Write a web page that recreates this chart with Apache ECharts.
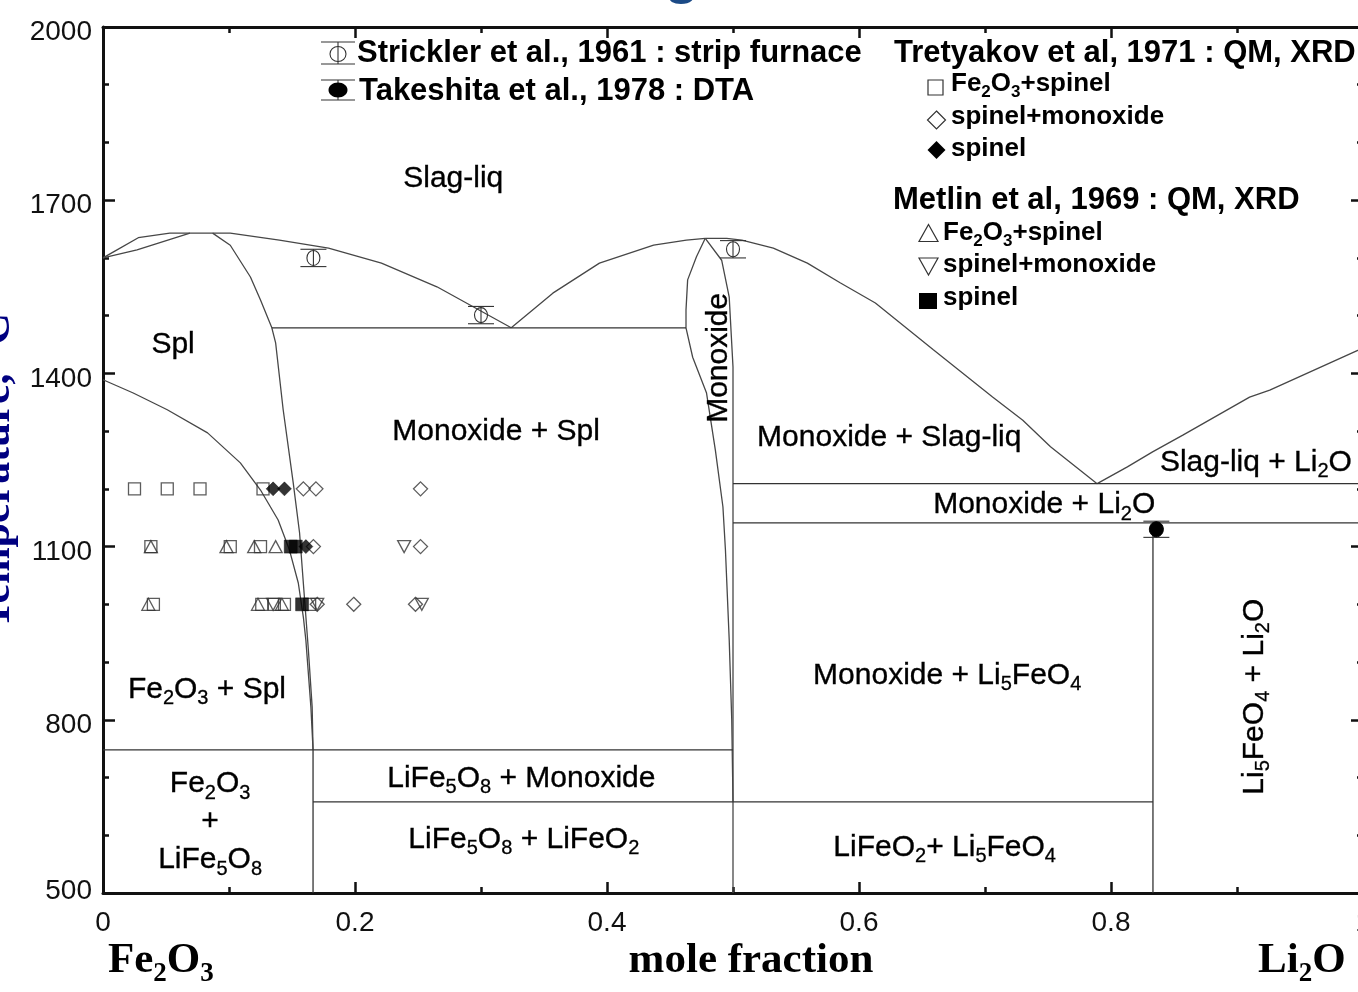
<!DOCTYPE html>
<html>
<head>
<meta charset="utf-8">
<title>Fe2O3 – Li2O phase diagram</title>
<script src="https://cdn.jsdelivr.net/npm/echarts@6/dist/echarts.min.js"></script>
<style>
  html, body { margin: 0; padding: 0; background: #fff; overflow: hidden; }
  #chart { width: 1358px; height: 992px; }
</style>
</head>
<body>
<div id="chart"></div>
<script>
// ---- Phase boundaries: [mole fraction Li2O, temperature °C] ----
const liquidusSpinel = [[0,1600],[0.008,1610],[0.028,1635],[0.053,1643],[0.101,1643],[0.140,1631],[0.179,1617],[0.221,1591],[0.265,1550],[0.324,1479]];
const solidusSpinelFe = [[0,1600],[0.027,1614],[0.069,1643]];
const spinelMonoxideLine = [[0.087,1643],[0.101,1622],[0.117,1567],[0.125,1527],[0.134,1479],[0.137,1453],[0.143,1337],[0.151,1210],[0.156,1124],[0.160,1008],[0.163,921],[0.166,822],[0.1667,748]];
const solvusFe2O3 = [[0,1389],[0.024,1366],[0.051,1337],[0.083,1297],[0.109,1245],[0.125,1198],[0.139,1146],[0.148,1094],[0.155,1037],[0.159,978],[0.161,938],[0.165,822],[0.1667,748]];
const liquidusMid = [[0.324,1479],[0.357,1539],[0.394,1591],[0.437,1622],[0.463,1631],[0.478,1634]];
const monoxideLeft = [[0.478,1634],[0.471,1602],[0.464,1562],[0.4627,1510],[0.4627,1479],[0.468,1428],[0.479,1366],[0.486,1267],[0.492,1169],[0.494,1094],[0.497,938],[0.499,800],[0.5,658]];
const monoxideRight = [[0.478,1634],[0.491,1596],[0.497,1532],[0.5,1411],[0.5,500]];
const liquidusMonoxide = [[0.478,1634],[0.495,1634],[0.507,1631],[0.532,1617],[0.559,1591],[0.585,1557],[0.613,1522],[0.659,1441],[0.706,1359],[0.730,1319],[0.752,1273],[0.789,1209]];
const liquidusLi2O = [[0.789,1209],[0.813,1238],[0.833,1264],[0.857,1293],[0.910,1359],[0.926,1371],[1.0,1444]];
const eutecticSpinel = [[0.134,1479],[0.4627,1479]];
const eutecticLi2O = [[0.5,1209],[1.0,1209]];
const peritecticLi5FeO4 = [[0.5,1141],[1.0,1141]];
const isothermFe2O3 = [[0,748],[0.5,748]];
const isothermLiFe5O8 = [[0.1667,658],[0.8333,658]];
const lineLiFe5O8 = [[0.1667,748],[0.1667,500]];
const lineLi5FeO4 = [[0.8333,1141],[0.8333,500]];

// ---- Experimental points ----
// Strickler et al., 1961 and Takeshita et al., 1978: [x, T, error]
const stricklerPts = [[0.167,1600,15],[0.300,1501,15],[0.500,1615,15]];
const takeshitaPts = [[0.836,1130,14]];
// Tretyakov et al., 1971
const tretFe2O3Spinel = [[0.025,1200],[0.051,1200],[0.077,1200],[0.127,1200],[0.038,1100],[0.101,1100],[0.125,1100],[0.040,1000],[0.126,1000],[0.136,1000],[0.144,1000],[0.164,1000]];
const tretSpinelMonoxide = [[0.159,1200],[0.169,1200],[0.252,1200],[0.167,1100],[0.252,1100],[0.170,1000],[0.199,1000],[0.248,1000]];
const tretSpinel = [[0.135,1200],[0.144,1200],[0.161,1100]];
// Metlin et al., 1969
const metFe2O3Spinel = [[0.038,1100],[0.098,1100],[0.120,1100],[0.137,1100],[0.036,1000],[0.123,1000],[0.142,1000]];
const metSpinelMonoxide = [[0.239,1100],[0.135,1000],[0.170,1000],[0.253,1000]];
const metSpinel = [[0.149,1100],[0.153,1100],[0.158,1000]];

// ---- Axis ticks ----
const xTicks = [0, 0.2, 0.4, 0.6, 0.8, 1];
const yTicks = [500, 800, 1100, 1400, 1700, 2000];

// ---- Styling helpers ----
const SANS = '"Liberation Sans", Arial, Helvetica, sans-serif';
const SERIF = '"Liberation Serif", "Times New Roman", serif';
const INK = '#000';
const LINE = '#474747';
const MARK = '#333';
const NAVY = '#000080';

const richStyles = {
  r:  { fontFamily: SANS, fontSize: 30, color: INK, lineHeight: 38, textBorderColor: INK, textBorderWidth: 0.35 },
  rs: { fontFamily: SANS, fontSize: 20, color: INK, lineHeight: 20, padding: [18, 0, 0, 0], textBorderColor: INK, textBorderWidth: 0.3 },
  h:  { fontFamily: SANS, fontSize: 31, fontWeight: 'bold', color: INK, lineHeight: 34 },
  e:  { fontFamily: SANS, fontSize: 26, fontWeight: 'bold', color: INK, lineHeight: 30 },
  es: { fontFamily: SANS, fontSize: 17, fontWeight: 'bold', color: INK, lineHeight: 14, padding: [16, 0, 0, 0] },
  b:  { fontFamily: SERIF, fontSize: 43, fontWeight: 'bold', color: NAVY, lineHeight: 50 },
  bs: { fontFamily: SERIF, fontSize: 27, fontWeight: 'bold', color: NAVY, lineHeight: 24, padding: [26, 0, 0, 0] }
};

// "Fe_2O_3" -> rich text with subscript digits
function rich(str, n, s) {
  return str.split('\n').map(line =>
    line.split(/_(\d)/).map((p, i) => p === '' ? '' : '{' + (i % 2 ? s : n) + '|' + p + '}').join('')
  ).join('\n');
}

function gText(x, y, str, n, s, align, rotation) {
  return {
    type: 'text', x: x, y: y, rotation: rotation || 0, silent: true, z: 20,
    style: {
      text: rich(str, n, s), rich: richStyles,
      align: align || 'left', verticalAlign: 'middle',
      textAlign: align || 'left', textVerticalAlign: 'middle'
    }
  };
}

function boundary(data, color) {
  return {
    type: 'line', data: data, showSymbol: false, symbol: 'none', silent: true,
    lineStyle: { color: color || LINE, width: 1.3 }, z: 2, animation: false
  };
}

const openStyle = { color: 'rgba(0,0,0,0)', borderColor: MARK, borderWidth: 1.3 };
const filledStyle = { color: '#000', borderColor: '#000', borderWidth: 0.5 };

function markers(data, symbol, size, style, rotate) {
  return {
    type: 'scatter', data: data, symbol: symbol, symbolSize: size, symbolRotate: rotate || 0,
    itemStyle: style, silent: true, z: 4, animation: false
  };
}

function errorBars(data, filled) {
  return {
    type: 'custom', data: data, silent: true, z: 5, animation: false,
    encode: { x: 0, y: 1 },
    renderItem: function (params, api) {
      const x = api.value(0), t = api.value(1), e = api.value(2);
      const c = api.coord([x, t]);
      const hi = api.coord([x, t + e]);
      const lo = api.coord([x, t - e]);
      const w = 13;
      const st = { stroke: '#333', lineWidth: 1.1 };
      return {
        type: 'group',
        children: [
          { type: 'line', shape: { x1: c[0], y1: hi[1], x2: c[0], y2: lo[1] }, style: st },
          { type: 'line', shape: { x1: c[0] - w, y1: hi[1], x2: c[0] + w, y2: hi[1] }, style: st },
          { type: 'line', shape: { x1: c[0] - w, y1: lo[1], x2: c[0] + w, y2: lo[1] }, style: st },
          { type: 'ellipse', shape: { cx: c[0], cy: c[1], rx: filled ? 7 : 6.5, ry: 7.5 },
            style: filled ? { fill: '#000', stroke: '#000', lineWidth: 1 } : { fill: 'none', stroke: '#333', lineWidth: 1.1 } }
        ]
      };
    }
  };
}

// Region names inside the diagram
const regionLabels = [
  { name: 'Slag-liq', value: [0.278, 1738] },
  { name: 'Spl', value: [0.0556, 1449] },
  { name: 'Monoxide + Spl', value: [0.312, 1299] },
  { name: 'Monoxide', value: [0.489, 1427], label: { rotate: 90 } },
  { name: 'Monoxide + Slag-liq', value: [0.624, 1288] },
  { name: 'Slag-liq + Li_2O', value: [0.915, 1245] },
  { name: 'Monoxide + Li_2O', value: [0.747, 1172] },
  { name: 'Fe_2O_3 + Spl', value: [0.0825, 852] },
  { name: 'Monoxide + Li_5FeO_4', value: [0.670, 876] },
  { name: 'Li_5FeO_4 + Li_2O', value: [0.914, 840], label: { rotate: 90 } },
  { name: 'Fe_2O_3\n+\nLiFe_5O_8', value: [0.085, 623] },
  { name: 'LiFe_5O_8 + Monoxide', value: [0.332, 698] },
  { name: 'LiFe_5O_8 + LiFeO_2', value: [0.334, 592] },
  { name: 'LiFeO_2+ Li_5FeO_4', value: [0.668, 578] }
];

const axisLineStyle = { color: '#111', width: 3 };
const tickStyle = { color: '#111', width: 2.5 };
const tickLabelColor = '#111';

function xAxisCfg(pos, labels) {
  return {
    type: 'value', position: pos, min: xTicks[0], max: xTicks[xTicks.length - 1], interval: xTicks[1] - xTicks[0],
    axisLine: { show: true, onZero: false, lineStyle: axisLineStyle },
    axisTick: { show: true, inside: true, length: 11, lineStyle: tickStyle },
    minorTick: { show: true, splitNumber: 2, length: 6, lineStyle: tickStyle },
    splitLine: { show: false }, minorSplitLine: { show: false },
    axisLabel: {
      show: labels, margin: 16, fontSize: 28, fontFamily: SANS, color: tickLabelColor,
      formatter: v => (v === 0 ? '0' : v === 1 ? '1' : v.toFixed(1))
    }
  };
}

function yAxisCfg(pos, labels) {
  return {
    type: 'value', position: pos, min: yTicks[0], max: yTicks[yTicks.length - 1], interval: yTicks[1] - yTicks[0],
    axisLine: { show: true, onZero: false, lineStyle: axisLineStyle },
    axisTick: { show: true, inside: true, length: 12, lineStyle: tickStyle },
    minorTick: { show: true, splitNumber: 3, length: 6, lineStyle: tickStyle },
    splitLine: { show: false }, minorSplitLine: { show: false },
    axisLabel: {
      show: labels, margin: 11, fontSize: 28, fontFamily: SANS, color: tickLabelColor,
      formatter: v => (v === yTicks[0] ? '{lo|' + v + '}' : '{hi|' + v + '}'),
      rich: {
        hi: { fontSize: 28, fontFamily: SANS, color: tickLabelColor, padding: [11, 0, 0, 0] },
        lo: { fontSize: 28, fontFamily: SANS, color: tickLabelColor, padding: [0, 0, 4, 0] }
      }
    }
  };
}

// Legend artwork (pixel layout of the key)
const legendGraphics = [
  // Strickler icon: error bar with open circle
  { type: 'line', shape: { x1: 338, y1: 42, x2: 338, y2: 64 }, style: { stroke: '#333', lineWidth: 1.1 } },
  { type: 'line', shape: { x1: 321, y1: 42, x2: 355, y2: 42 }, style: { stroke: '#333', lineWidth: 1.1 } },
  { type: 'line', shape: { x1: 321, y1: 64, x2: 355, y2: 64 }, style: { stroke: '#333', lineWidth: 1.1 } },
  { type: 'ellipse', shape: { cx: 338, cy: 54, rx: 8, ry: 7.5 }, style: { fill: 'none', stroke: '#333', lineWidth: 1.1 } },
  // Takeshita icon: error bar with filled circle
  { type: 'line', shape: { x1: 338, y1: 80, x2: 338, y2: 100 }, style: { stroke: '#333', lineWidth: 1.1 } },
  { type: 'line', shape: { x1: 321, y1: 80, x2: 355, y2: 80 }, style: { stroke: '#333', lineWidth: 1.1 } },
  { type: 'line', shape: { x1: 321, y1: 100, x2: 355, y2: 100 }, style: { stroke: '#333', lineWidth: 1.1 } },
  { type: 'ellipse', shape: { cx: 338, cy: 90, rx: 9.5, ry: 7.5 }, style: { fill: '#000' } },
  gText(357, 53, 'Strickler et al., 1961 : strip furnace', 'h', 'h'),
  gText(359, 91, 'Takeshita et al., 1978 : DTA', 'h', 'h'),

  gText(894, 53, 'Tretyakov et al, 1971 : QM, XRD', 'h', 'h'),
  { type: 'rect', shape: { x: 928, y: 80, width: 15, height: 15 }, style: { fill: 'none', stroke: MARK, lineWidth: 1.2 } },
  gText(951, 84, 'Fe_2O_3+spinel', 'e', 'es'),
  { type: 'polygon', shape: { points: [[936.5, 111], [945.5, 120], [936.5, 129], [927.5, 120]] }, style: { fill: 'none', stroke: MARK, lineWidth: 1.2 } },
  gText(951, 117, 'spinel+monoxide', 'e', 'es'),
  { type: 'polygon', shape: { points: [[936.5, 141], [945.5, 150], [936.5, 159], [927.5, 150]] }, style: { fill: '#000' } },
  gText(951, 149, 'spinel', 'e', 'es'),

  gText(893, 200, 'Metlin et al, 1969 : QM, XRD', 'h', 'h'),
  { type: 'polygon', shape: { points: [[928.5, 224.5], [938, 241.5], [919, 241.5]] }, style: { fill: 'none', stroke: MARK, lineWidth: 1.2 } },
  gText(943, 233, 'Fe_2O_3+spinel', 'e', 'es'),
  { type: 'polygon', shape: { points: [[919, 258], [938, 258], [928.5, 275]] }, style: { fill: 'none', stroke: MARK, lineWidth: 1.2 } },
  gText(943, 265, 'spinel+monoxide', 'e', 'es'),
  { type: 'rect', shape: { x: 919, y: 293, width: 18, height: 16 }, style: { fill: '#000' } },
  gText(943, 298, 'spinel', 'e', 'es')
];

// Axis captions and the heading, whose lower edge peeks in at the top
const captionGraphics = [
  { type: 'text', x: 664, y: -24, silent: true,
    style: { text: 'g', font: 'bold 58px ' + SANS, fill: '#1b4a86', align: 'left', verticalAlign: 'middle', textAlign: 'left', textVerticalAlign: 'middle' } },
  { type: 'text', x: -2, y: 471, rotation: Math.PI / 2, silent: true,
    style: { text: 'Temperature, °C', font: 'bold 44px ' + SERIF, fill: NAVY, align: 'center', verticalAlign: 'middle', textAlign: 'center', textVerticalAlign: 'middle' } },
  gText(108, 961, 'Fe_2O_3', 'b', 'bs'),
  gText(751, 961, 'mole fraction', 'b', 'bs', 'center'),
  gText(1258, 961, 'Li_2O', 'b', 'bs')
];

const chart = echarts.init(document.getElementById('chart'), null, { renderer: 'canvas' });

chart.setOption({
  animation: false,
  backgroundColor: '#fff',
  grid: { left: 103, top: 27, width: 1260, height: 866, containLabel: false, outerBoundsMode: 'none' },
  xAxis: [xAxisCfg('bottom', true), xAxisCfg('top', false)],
  yAxis: [yAxisCfg('left', true), yAxisCfg('right', false)],
  series: [
    boundary(liquidusSpinel),
    boundary(solidusSpinelFe),
    boundary(spinelMonoxideLine),
    boundary(solvusFe2O3),
    boundary(liquidusMid),
    boundary(monoxideLeft),
    boundary(monoxideRight),
    boundary(liquidusMonoxide),
    boundary(liquidusLi2O),
    boundary(eutecticSpinel, '#333'),
    boundary(eutecticLi2O, '#333'),
    boundary(peritecticLi5FeO4, '#333'),
    boundary(isothermFe2O3, '#333'),
    boundary(isothermLiFe5O8, '#333'),
    boundary(lineLiFe5O8, '#333'),
    boundary(lineLi5FeO4, '#333'),

    markers(tretFe2O3Spinel, 'rect', 12, openStyle),
    markers(tretSpinelMonoxide, 'diamond', 14, openStyle),
    markers(tretSpinel, 'diamond', 14, filledStyle),
    markers(metFe2O3Spinel, 'triangle', [13, 12], openStyle),
    markers(metSpinelMonoxide, 'triangle', [13, 12], openStyle, 180),
    markers(metSpinel, 'rect', 13, filledStyle),

    errorBars(stricklerPts, false),
    errorBars(takeshitaPts, true),

    {
      type: 'scatter', data: regionLabels, symbolSize: 0, silent: true, z: 6, animation: false,
      itemStyle: { color: 'rgba(0,0,0,0)' },
      label: {
        show: true, position: 'inside', color: INK, opacity: 1,
        formatter: p => rich(p.name, 'r', 'rs'),
        rich: richStyles
      }
    }
  ],
  graphic: { elements: legendGraphics.concat(captionGraphics) }
});
</script>
</body>
</html>
